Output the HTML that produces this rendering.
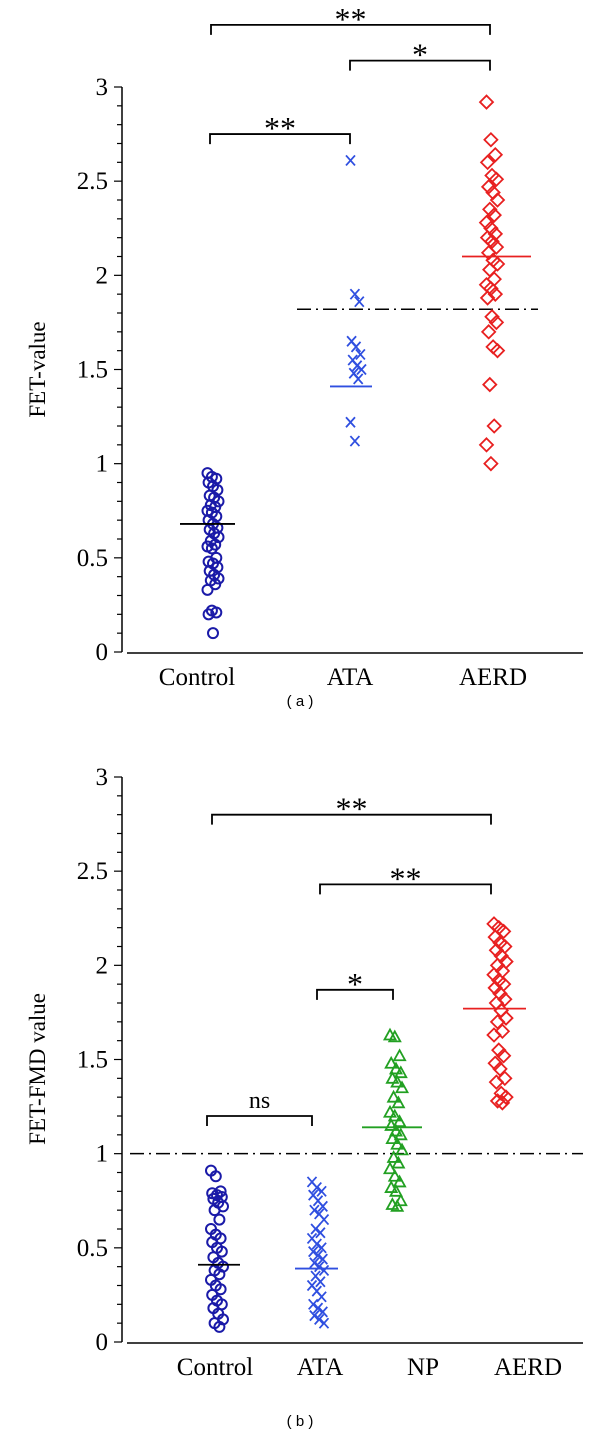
<!DOCTYPE html>
<html><head><meta charset="utf-8"><style>
html,body{margin:0;padding:0;background:#fff;}
svg{display:block;font-family:"Liberation Serif",serif;}
</style></head><body>
<svg id="s" width="600" height="1436" viewBox="0 0 600 1436" xmlns="http://www.w3.org/2000/svg"></svg>
<script>
// ---------- panel (a) data ----------
const catsA = ["Control","ATA","AERD"];
const controlA = [0.95,0.93,0.92,0.9,0.88,0.86,0.83,0.82,0.8,0.78,0.77,0.75,0.74,0.72,0.7,0.68,0.66,0.65,0.63,0.61,0.59,0.57,0.56,0.55,0.5,0.48,0.47,0.45,0.43,0.41,0.39,0.38,0.36,0.33,0.22,0.21,0.2,0.1];
const ataA = [2.61,1.9,1.86,1.65,1.62,1.58,1.55,1.52,1.5,1.48,1.45,1.22,1.12];
const aerdA = [2.92,2.72,2.64,2.6,2.53,2.51,2.47,2.44,2.4,2.35,2.32,2.28,2.25,2.22,2.2,2.18,2.15,2.12,2.08,2.06,2.03,1.98,1.95,1.93,1.9,1.88,1.78,1.75,1.7,1.62,1.6,1.42,1.2,1.1,1.0];
const meansA = [0.68,1.41,2.1];
const cutoffA = 1.82;
// ---------- panel (b) data ----------
const catsB = ["Control","ATA","NP","AERD"];
const controlB = [0.91,0.88,0.8,0.79,0.78,0.77,0.76,0.74,0.72,0.7,0.65,0.6,0.57,0.55,0.53,0.5,0.48,0.45,0.42,0.4,0.38,0.36,0.33,0.3,0.28,0.25,0.22,0.2,0.18,0.15,0.12,0.1,0.08];
const ataB = [0.85,0.82,0.8,0.78,0.75,0.72,0.7,0.68,0.65,0.6,0.58,0.55,0.52,0.5,0.48,0.46,0.44,0.42,0.4,0.38,0.35,0.32,0.3,0.27,0.24,0.2,0.18,0.16,0.14,0.12,0.1];
const npB = [1.63,1.62,1.52,1.48,1.45,1.43,1.4,1.38,1.35,1.3,1.27,1.22,1.2,1.17,1.15,1.12,1.1,1.08,1.05,1.02,0.98,0.95,0.92,0.88,0.85,0.82,0.8,0.75,0.73,0.72];
const aerdB = [2.22,2.2,2.18,2.15,2.12,2.1,2.08,2.05,2.02,2.0,1.97,1.95,1.92,1.9,1.88,1.85,1.82,1.8,1.76,1.72,1.7,1.65,1.63,1.55,1.52,1.48,1.45,1.4,1.38,1.32,1.3,1.28,1.27];
const meansB = [0.41,0.39,1.14,1.77];
const cutoffB = 1.0;
const ticks = [0,0.5,1,1.5,2,2.5,3];

const NS="http://www.w3.org/2000/svg";
const svg=document.getElementById('s');
function mk(tag,attrs,parent){const e=document.createElementNS(NS,tag);for(const k in attrs)e.setAttribute(k,attrs[k]);(parent||svg).appendChild(e);return e;}

function panel(cfg){
  const y=v=>cfg.y0+(cfg.y3-cfg.y0)*v/3;
  const g=mk('g',{});
  
  
  const ya=mk('line',{x1:122,y1:cfg.y3,x2:122,y2:cfg.y0,stroke:'#000','stroke-width':1.5},g);
  
  
  const xa=mk('line',{x1:127,y1:cfg.y0+1,x2:583,y2:cfg.y0+1,stroke:'#000','stroke-width':1.5},g);
  
  
  for(let v=0;v<=3.001;v+=0.1){
    const major=Math.abs(v*2-Math.round(v*2))<1e-6;
    mk('line',{x1:122-(major?8:5),y1:y(v),x2:122,y2:y(v),stroke:'#000','stroke-width':1.2},g);
  }
  ticks.forEach(t=>{
    const tx=mk('text',{x:108,y:y(t)+8,'text-anchor':'end','font-size':25},g);
    tx.textContent=String(t);
    
    
  });
  const yt=mk('text',{x:0,y:0,'text-anchor':'middle','font-size':23,transform:`translate(45,${y(cfg.titleV)}) rotate(-90)`},g);
  yt.textContent=cfg.title;
  
  
  cfg.cats.forEach((c,i)=>{
    const t=mk('text',{x:cfg.labelX[i],y:cfg.y0+33,'text-anchor':'middle','font-size':25},g);
    t.textContent=c;
    
    
  });
  const cap=mk('text',{x:300,y:cfg.capY,'text-anchor':'middle','font-size':15,'font-family':'Liberation Sans, sans-serif'},g);
  cap.textContent=cfg.caption;
  
  
  const cl=mk('line',{x1:cfg.cutX[0],y1:y(cfg.cutoff),x2:cfg.cutX[1],y2:y(cfg.cutoff),stroke:'#000','stroke-width':1.5,'stroke-dasharray':'14 5 2 5'},g);
  
  
  cfg.series.forEach((s,si)=>{
    const sg=mk('g',{},g);
    
    
    const cx=cfg.catX[si];
    s.vals.forEach((v,i)=>{
      const jx=cx+((i*37)%11-5)*cfg.jit;
      const py=y(v);
      let m;
      if(s.shape==='o') m=mk('circle',{cx:jx,cy:py,r:5,fill:'none',stroke:s.color,'stroke-width':2},sg);
      else if(s.shape==='x') m=mk('path',{d:`M${jx-4.5} ${py-5}L${jx+4.5} ${py+5}M${jx+4.5} ${py-5}L${jx-4.5} ${py+5}`,stroke:s.color,'stroke-width':1.8,fill:'none'},sg);
      else if(s.shape==='d') m=mk('path',{d:`M${jx} ${py-6.5}L${jx+6.5} ${py}L${jx} ${py+6.5}L${jx-6.5} ${py}Z`,stroke:s.color,'stroke-width':1.8,fill:'none'},sg);
      else m=mk('path',{d:`M${jx} ${py-5.5}L${jx+5.5} ${py+4.5}L${jx-5.5} ${py+4.5}Z`,stroke:s.color,'stroke-width':1.8,fill:'none'},sg);
      
      
    });
    const ml=mk('line',{x1:cfg.meanX[si][0],y1:y(cfg.means[si]),x2:cfg.meanX[si][1],y2:y(cfg.means[si]),stroke:s.mcolor,'stroke-width':1.8},g);
    
    
  });
  cfg.brackets.forEach(b=>{
    const by=y(b.v);
    const p=mk('path',{d:`M${b.x1} ${by+10}V${by}H${b.x2}V${by+10}`,stroke:'#000','stroke-width':1.8,fill:'none'},g);
    
    
    const t=mk('text',{x:(b.x1+b.x2)/2,y:by-(b.lab==='ns'?8:-5),'text-anchor':'middle','font-size':b.lab==='ns'?24:32},g);
    t.textContent=b.lab;
    
    
  });
}

panel({name:'panel-a',y0:652,y3:87,cats:catsA,catX:[213,356,492],labelX:[197,350,493],jit:1.1,
  title:'FET-value',titleV:1.5,caption:'( a )',capY:706,cutoff:cutoffA,cutX:[297,538],means:meansA,
  meanX:[[180,235],[330,372],[462,531]],
  series:[{vals:controlA,shape:'o',color:'#1a1aa8',mcolor:'#000'},{vals:ataA,shape:'x',color:'#2f4fe0',mcolor:'#2f4fe0'},{vals:aerdA,shape:'d',color:'#e82020',mcolor:'#e82020'}],
  brackets:[{x1:211,x2:490,v:3.33,lab:'**'},{x1:350,x2:490,v:3.14,lab:'*'},{x1:210,x2:350,v:2.75,lab:'**'}]});

panel({name:'panel-b',y0:1342,y3:777,cats:catsB,catX:[217,318,396,500],labelX:[215,320,423,528],jit:1.2,
  title:'FET-FMD value',titleV:1.45,caption:'( b )',capY:1426,cutoff:cutoffB,cutX:[130,583],means:meansB,
  meanX:[[198,240],[295,338],[362,422],[463,526]],
  series:[{vals:controlB,shape:'o',color:'#1a1aa8',mcolor:'#000'},{vals:ataB,shape:'x',color:'#2f4fe0',mcolor:'#2f4fe0'},{vals:npB,shape:'t',color:'#22a022',mcolor:'#22a022'},{vals:aerdB,shape:'d',color:'#e82020',mcolor:'#e82020'}],
  brackets:[{x1:212,x2:491,v:2.8,lab:'**'},{x1:320,x2:491,v:2.43,lab:'**'},{x1:317,x2:393,v:1.87,lab:'*'},{x1:207,x2:312,v:1.2,lab:'ns'}]});
</script>
</body></html>
